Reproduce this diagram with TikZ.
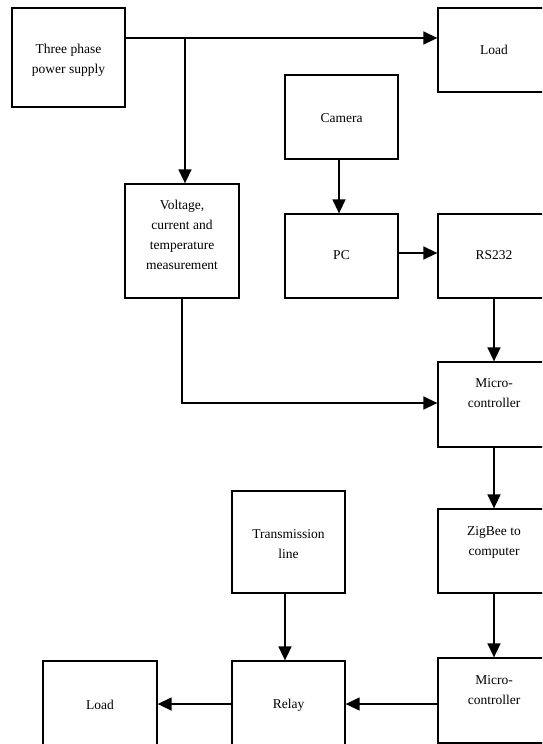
\documentclass[tikz,border=0pt]{standalone}
\usepackage{fontspec}
\setmainfont{Liberation Serif}
\usetikzlibrary{arrows.meta}
\begin{document}
\begin{tikzpicture}[x=1pt,y=-1pt,
  box/.style={draw, line width=1.3pt, rectangle, inner sep=0pt},
  lbl/.style={font=\fontsize{13.5}{20}\selectfont, align=center, inner sep=0pt},
  arr/.style={line width=1.5pt, -{Triangle[length=14pt,width=13pt]}},
  ln/.style={line width=1.5pt}]
\useasboundingbox (0,0) rectangle (542,744);
\clip (0,0) rectangle (542,744);
% boxes
\node[box, minimum width=113pt, minimum height=99pt] (tps) at (68.5,57.5) {};
\node[box, minimum width=112pt, minimum height=84pt] (load1) at (494,50) {};
\node[box, minimum width=113pt, minimum height=84pt] (cam) at (341.5,117) {};
\node[box, minimum width=114pt, minimum height=114pt] (vm) at (182,241) {};
\node[box, minimum width=113pt, minimum height=84pt] (pc) at (341.5,256) {};
\node[box, minimum width=112pt, minimum height=84pt] (rs) at (494,256) {};
\node[box, minimum width=112pt, minimum height=85pt] (mc1) at (494,404.5) {};
\node[box, minimum width=112pt, minimum height=84pt] (zb) at (494,551) {};
\node[box, minimum width=112pt, minimum height=85pt] (mc2) at (494,700.5) {};
\node[box, minimum width=113pt, minimum height=102pt] (tl) at (288.5,542) {};
\node[box, minimum width=113pt, minimum height=88pt] (relay) at (288.5,705) {};
\node[box, minimum width=114pt, minimum height=88pt] (load2) at (100,705) {};
% labels
\node[lbl] (ttps) at (68.5,60) {Three phase\\power supply};
\node[lbl] (tload1) at (494,50) {Load};
\node[lbl] (tcam) at (341.5,118) {Camera};
\node[lbl] (tvm) at (182,235) {Voltage,\\current and\\temperature\\measurement};
\node[lbl] (tpc) at (341.5,255) {PC};
\node[lbl] (trs) at (494,255) {RS232};
\node[lbl] (tmc1) at (494,393) {Micro-\\controller};
\node[lbl] (tzb) at (494,542) {ZigBee to\\computer};
\node[lbl] (tmc2) at (494,690) {Micro-\\controller};
\node[lbl] (ttl) at (288.5,544) {Transmission\\line};
\node[lbl] (trelay) at (288.5,705) {Relay};
\node[lbl] (tload2) at (100,705) {Load};
% connectors
\coordinate (j1) at (185,38);
\coordinate (j2) at (490,253);
\coordinate (j3) at (490,403);
\coordinate (j4) at (490,704);
\coordinate (j5) at (339,0);
\coordinate (j6) at (285,0);
\draw[arr] (tps.east |- j1) -- (load1.west |- j1);
\draw[arr] (j1) -- (vm.north -| j1);
\draw[arr] (cam.south -| j5) -- (pc.north -| j5);
\draw[arr] (pc.east |- j2) -- (rs.west |- j2);
\draw[arr] (rs.south) -- (mc1.north);
\draw[arr] (vm.south) |- (mc1.west |- j3);
\draw[arr] (mc1.south) -- (zb.north);
\draw[arr] (zb.south) -- (mc2.north);
\draw[arr] (tl.south -| j6) -- (relay.north -| j6);
\draw[arr] (mc2.west |- j4) -- (relay.east |- j4);
\draw[arr] (relay.west |- j4) -- (load2.east |- j4);
\end{tikzpicture}
\end{document}
